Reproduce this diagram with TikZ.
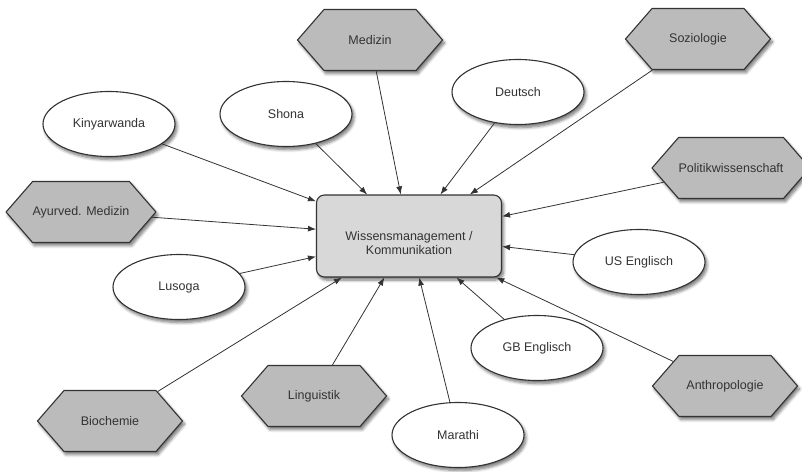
\documentclass[tikz,border=0pt]{standalone}
\usepackage{fontspec}
\setmainfont{Liberation Sans}
\usetikzlibrary{shapes.geometric,shapes.symbols,shadows.blur,arrows.meta}
\definecolor{hexfill}{HTML}{BBBBBB}
\definecolor{boxfill}{HTML}{D8D8D8}
\definecolor{edgecol}{HTML}{333333}
\newcommand{\lowr}[1]{\raisebox{-7pt}[\height][\depth]{#1}}
\begin{document}
\begin{tikzpicture}[x=1pt,y=-1pt,
  every node/.style={font=\fontsize{12.5}{14}\selectfont, text=black!80},
  shad/.style={blur shadow={shadow xshift=2pt, shadow yshift=-3pt, shadow blur radius=3pt, shadow blur steps=6, shadow opacity=55}},
  ell/.style={ellipse, draw=edgecol, line width=1.1pt, fill=white, minimum width=132pt, minimum height=65pt, inner sep=0pt, shad},
  hex/.style={signal, signal to=west and east, signal pointer angle=98, draw=edgecol, line width=1.1pt, fill=hexfill, minimum width=145pt, minimum height=61pt, inner sep=0pt, shad},
  hub/.style={rectangle, rounded corners=8pt, draw=edgecol, line width=1.1pt, fill=boxfill, minimum width=185pt, minimum height=82pt, align=center, shad},
  conn/.style={-{Latex[length=8pt,width=6pt]}, draw=edgecol, line width=0.8pt}
]
\useasboundingbox (0,0) rectangle (802,471);

\node[hub] (hub) at (409,236) {\lowr{Wissensmanagement /}\\\lowr{Kommunikation}};

\node[ell] (kin) at (109,124) {Kinyarwanda};
\node[ell] (sho) at (286,114) {Shona};
\node[ell] (deu) at (518,92) {Deutsch};
\node[ell] (use) at (639,262) {US Englisch};
\node[ell] (lus) at (179,287) {Lusoga};
\node[ell] (gbe) at (537,348) {GB Englisch};
\node[ell] (mar) at (458,435) {Marathi};

\node[hex] (med) at (370,40) {Medizin};
\node[hex] (soz) at (698,39) {Soziologie};
\node[hex, minimum width=133pt] (pol) at (731,168) {Politikwissenschaft};
\node[hex] (ayu) at (81,212) {Ayurved. Medizin};
\node[hex] (lin) at (314,396) {Linguistik};
\node[hex] (bio) at (110,421) {Biochemie};
\node[hex] (ant) at (725,386) {Anthropologie};

\foreach \n in {kin,sho,med,deu,soz,pol,use,ant,gbe,mar,lin,bio,lus,ayu}
  \draw[conn] (\n) -- (hub);
\end{tikzpicture}
\end{document}
